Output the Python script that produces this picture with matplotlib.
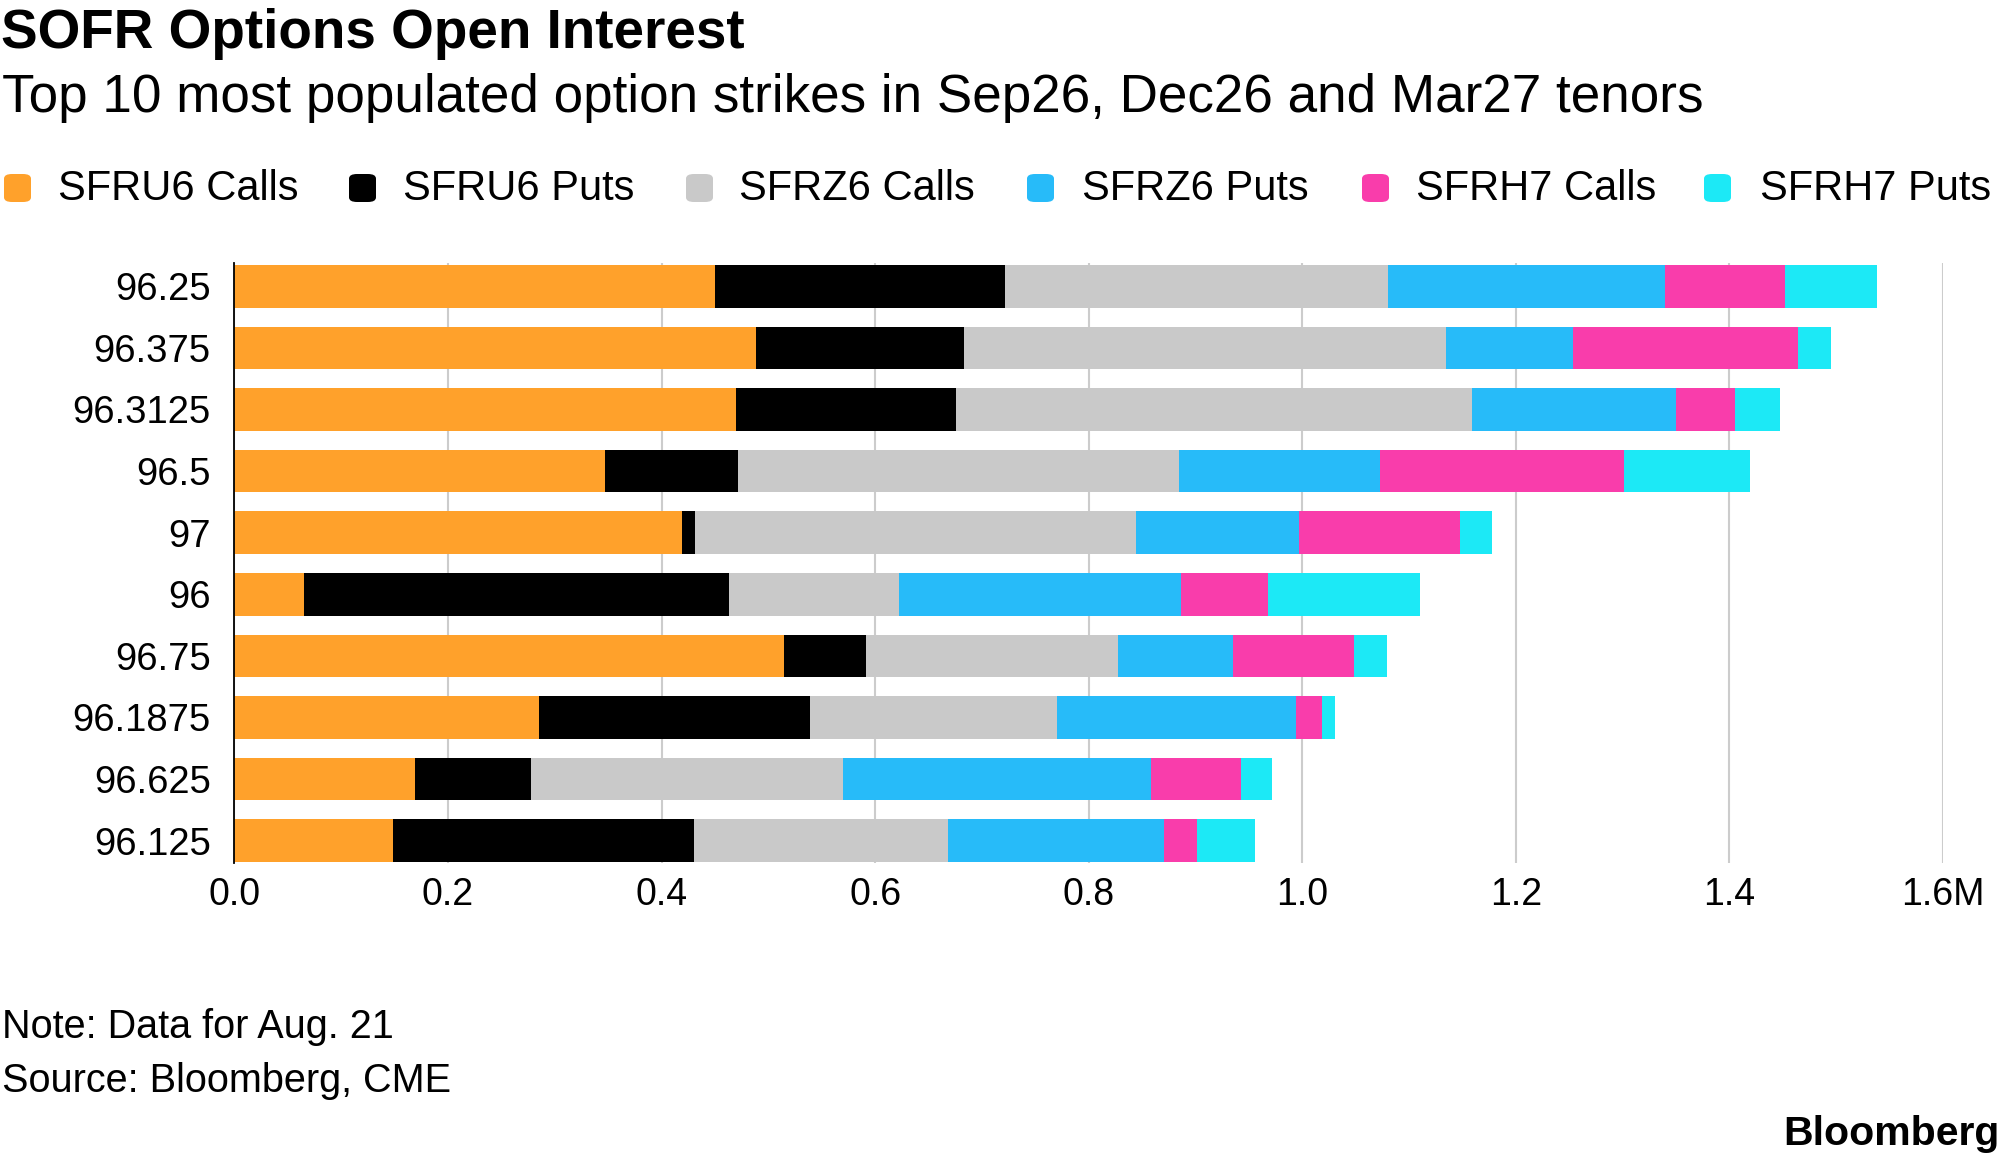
import matplotlib
matplotlib.use("Agg")
import matplotlib.pyplot as plt
from matplotlib.patches import FancyBboxPatch
import numpy as np

# ---------------- data (millions of contracts) ----------------
strikes = ['96.25', '96.375', '96.3125', '96.5', '97', '96', '96.75', '96.1875', '96.625', '96.125']
sfru6_calls = [0.450, 0.4885, 0.470, 0.3475, 0.4196, 0.0656, 0.5149, 0.2857, 0.1695, 0.1485]
sfru6_puts = [0.272, 0.195, 0.206, 0.124, 0.012, 0.398, 0.077, 0.253, 0.108, 0.282]
sfrz6_calls = [0.358, 0.451, 0.483, 0.413, 0.413, 0.159, 0.236, 0.232, 0.292, 0.238]
sfrz6_puts = [0.260, 0.119, 0.191, 0.188, 0.152, 0.264, 0.107, 0.223, 0.289, 0.202]
sfrh7_calls = [0.112, 0.211, 0.055, 0.229, 0.151, 0.081, 0.114, 0.025, 0.084, 0.031]
sfrh7_puts = [0.086, 0.031, 0.042, 0.118, 0.030, 0.143, 0.030, 0.012, 0.029, 0.054]

series_names = ['SFRU6 Calls', 'SFRU6 Puts', 'SFRZ6 Calls', 'SFRZ6 Puts', 'SFRH7 Calls', 'SFRH7 Puts']
series_values = [sfru6_calls, sfru6_puts, sfrz6_calls, sfrz6_puts, sfrh7_calls, sfrh7_puts]
series_colors = ['#FFA12B', '#000000', '#C9C9C9', '#27BBF9', '#F93DAB', '#1CE9F6']

x_ticks = [0.0, 0.2, 0.4, 0.6, 0.8, 1.0, 1.2, 1.4, 1.6]
x_tick_labels = ['0.0', '0.2', '0.4', '0.6', '0.8', '1.0', '1.2', '1.4', '1.6M']

title = 'SOFR Options Open Interest'
subtitle = 'Top 10 most populated option strikes in Sep26, Dec26 and Mar27 tenors'
note = 'Note: Data for Aug. 21'
source = 'Source: Bloomberg, CME'
brand = 'Bloomberg'

# ---------------- figure ----------------
plt.rcParams['font.family'] = ['Liberation Sans', 'DejaVu Sans']
W, H = 2004, 1161
fig = plt.figure(figsize=(W / 100, H / 100), dpi=100)
fig.patch.set_facecolor('white')

def fx(px):
    return px / W

def fy(py):
    return 1 - py / H

ax_left, ax_right, ax_top, ax_bottom = 234.4, 1943, 263, 863
ax = fig.add_axes([fx(ax_left), fy(ax_bottom), fx(ax_right - ax_left), (ax_bottom - ax_top) / H])

y = np.arange(len(strikes))
left = np.zeros(len(strikes))
for name, vals, col in zip(series_names, series_values, series_colors):
    v = np.array(vals)
    ax.barh(y, v, left=left, height=0.69, color=col, edgecolor='none', label=name, zorder=2)
    left += v

ax.set_xlim(0, 1.6)
ax.set_ylim(9.362, -0.378)
ax.set_xticks(x_ticks)
ax.set_xticklabels(x_tick_labels)
ax.set_yticks(y)
ax.set_yticklabels(strikes)
ax.tick_params(axis='both', length=0, labelcolor='black')
ax.tick_params(axis='x', pad=10, labelsize=27)
ax.tick_params(axis='y', pad=17, labelsize=27.5)
ax.set_axisbelow(True)
ax.xaxis.grid(True, color='#CCCCCC', linewidth=1.5, zorder=0)
for s in ['top', 'right', 'bottom']:
    ax.spines[s].set_visible(False)
ax.spines['left'].set_color('black')
ax.spines['left'].set_linewidth(1.3)
ax.spines['left'].set_zorder(5)

# ---------------- texts ----------------
fig.text(fx(1), fy(48), title, fontsize=39.5, fontweight='bold', ha='left', va='baseline')
fig.text(fx(2), fy(112), subtitle, fontsize=38.2, ha='left', va='baseline')

# legend
sq_x = [4, 349, 686, 1027, 1362, 1704]
txt_x = [58, 403, 739, 1082, 1416, 1760]
for sx, tx, name, col in zip(sq_x, txt_x, series_names, series_colors):
    p = FancyBboxPatch((fx(sx), fy(202)), fx(27), 28 / H,
                       boxstyle='round,pad=0,rounding_size=0.004',
                       transform=fig.transFigure, facecolor=col, edgecolor='none')
    fig.patches.append(p)
    fig.text(fx(tx), fy(200), name, fontsize=30, ha='left', va='baseline')

fig.text(fx(2), fy(1038), note, fontsize=28.5, ha='left', va='baseline')
fig.text(fx(2), fy(1092), source, fontsize=28.5, ha='left', va='baseline')
fig.text(fx(2000), fy(1145), brand, fontsize=29.5, fontweight='bold', ha='right', va='baseline')

fig.savefig('out.png', dpi=100, facecolor='white')
